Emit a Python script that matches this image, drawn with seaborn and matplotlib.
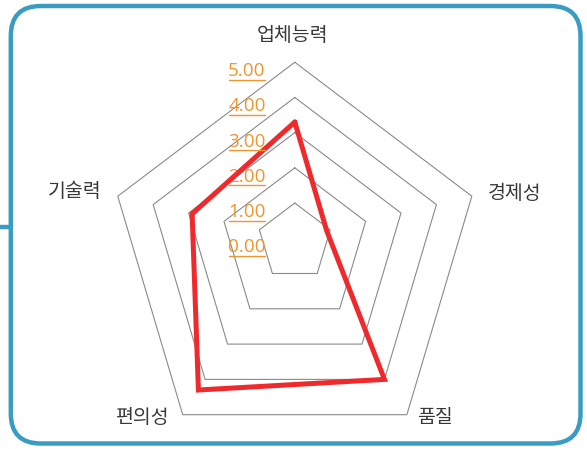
import numpy as np
import pandas as pd
import seaborn as sns
import matplotlib.pyplot as plt
from matplotlib.patches import FancyBboxPatch
from matplotlib.lines import Line2D
from matplotlib.transforms import IdentityTransform

# ---- data ----
categories = ["업체능력", "경제성", "품질", "편의성", "기술력"]
scores = [3.3, 0.9, 4.0, 4.3, 2.9]
grid_levels = [1, 2, 3, 4, 5]
tick_values = [0, 1, 2, 3, 4, 5]
tick_labels = ["0.00", "1.00", "2.00", "3.00", "4.00", "5.00"]

# ---- style ----
sns.set_theme(style="white")
plt.rcParams['font.family'] = ['Noto Sans CJK KR', 'DejaVu Sans']

W, H = 587, 449
S = 35.3             # pixels per value unit
CX, CY = 294.8, 238.2  # chart centre (image px, from top-left)

# axis directions of the radar (one per category)
dirs = np.array([[0.0, 0.997],
                 [1.003, 0.238],
                 [0.635, -1.0],
                 [-0.635, -1.0],
                 [-1.003, 0.238]])

fig = plt.figure(figsize=(W / 100, H / 100), dpi=100)
ax = fig.add_axes([0, 0, 1, 1])
ax.set_xlim(-CX / S, (W - CX) / S)
ax.set_ylim(-(H - CY) / S, CY / S)
ax.axis('off')

grid_color = '#8a8a8a'
for L in grid_levels:
    pts = dirs * L
    pts = np.vstack([pts, pts[:1]])
    ax.plot(pts[:, 0], pts[:, 1], color=grid_color, lw=0.8, zorder=1)

# data polygon
vals = np.array(scores)
pts = dirs * vals[:, None]
pts = np.vstack([pts, pts[:1]])
df = pd.DataFrame({'x': pts[:, 0], 'y': pts[:, 1]})
sns.lineplot(data=df, x='x', y='y', sort=False, estimator=None, ax=ax,
             color='#ee2a2d', lw=3.6, solid_joinstyle='miter', zorder=3)
ax.set_xlabel('')
ax.set_ylabel('')

# category labels
label_style = [((-2, 27), 'center'), ((16, 3), 'left'), ((10, -3), 'left'),
               ((-13, -3), 'right'), ((-16, 4.5), 'right')]
for i, cat in enumerate(categories):
    off, ha = label_style[i]
    ax.annotate(cat, xy=dirs[i] * 5, xytext=off, textcoords='offset pixels',
                ha=ha, va='center', fontsize=14, color='#383838')

# radial tick labels (orange, underlined)
orange = '#f0952f'
tick_texts = []
for v, lbl in zip(tick_values, tick_labels):
    t = ax.annotate(lbl, xy=(0, dirs[0][1] * v), xytext=(-29, -14),
                    textcoords='offset pixels', ha='right', va='baseline',
                    fontsize=13.6, color=orange,
                    family=['Open Sans', 'DejaVu Sans'], zorder=2)
    tick_texts.append((v, t))

fig.canvas.draw()
renderer = fig.canvas.get_renderer()
for v, t in tick_texts:
    bb = t.get_window_extent(renderer)
    base_y = ax.transData.transform((0, dirs[0][1] * v))[1] - 14
    uy = base_y - 3.5
    fig.add_artist(Line2D([bb.x0 + 1, bb.x1 - 1], [uy, uy], color=orange,
                          lw=1.0, transform=IdentityTransform()))

# rounded frame
frame_color = '#3a9cc2'
box = FancyBboxPatch((10.8, 5.5), 580.5 - 10.8, 443.0 - 5.5,
                     boxstyle='round,pad=0,rounding_size=30',
                     transform=IdentityTransform(), fill=False,
                     ec=frame_color, lw=3.2)
fig.add_artist(box)
fig.add_artist(Line2D([0, 10.8], [H - 227, H - 227], color=frame_color,
                      lw=3.2, transform=IdentityTransform()))

fig.savefig('out.png', dpi=100)
